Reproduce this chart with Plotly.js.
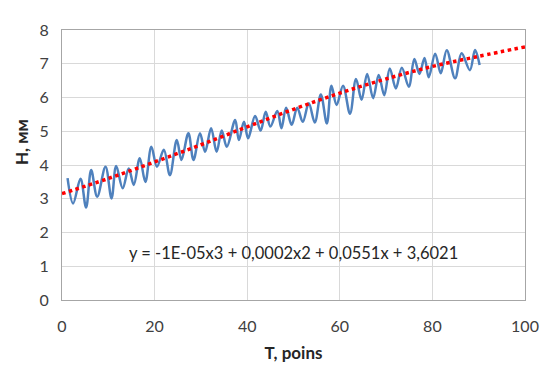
<!DOCTYPE html>
<html>
<head>
<meta charset="utf-8">
<script src="https://cdn.plot.ly/plotly-3.0.1.min.js"></script>
<style>html,body{margin:0;padding:0;background:#fff;}#chart{width:541px;height:365px;}</style>
</head>
<body>
<div id="chart"></div>
<script>
// Measured series: extrema of the oscillating curve (T, H)
const seriesT = [1.2,2.4,4.0,5.2,6.3,7.6,9.4,10.7,11.7,13.1,14.4,15.5,16.8,18.0,19.3,20.5,22.0,23.3,24.8,25.8,27.3,28.4,29.8,30.9,32.2,33.4,34.5,35.6,37.4,38.2,39.3,40.2,41.7,42.9,44.0,45.0,46.5,47.4,48.4,49.6,50.8,52.0,53.3,54.6,55.9,57.2,58.2,59.3,60.7,62.2,63.5,64.7,65.9,67.2,68.4,69.6,70.8,72.1,73.4,74.9,76.1,77.2,78.3,79.2,80.6,81.8,83.1,84.9,86.3,88.1,89.2,90.2];
const seriesH = [3.61,2.86,3.59,2.74,3.85,3.06,3.95,3.01,3.97,3.31,3.90,3.41,4.20,3.50,4.54,3.95,4.45,3.70,4.74,4.15,4.94,4.15,4.94,4.39,5.09,4.39,5.02,4.54,5.33,4.74,5.28,4.79,5.45,5.02,5.58,5.14,5.60,5.09,5.70,5.19,5.70,5.28,5.83,5.26,6.09,5.23,6.35,5.78,6.35,5.52,6.55,5.93,6.70,5.98,6.67,6.07,6.86,6.27,6.88,6.32,7.14,6.70,7.17,6.60,7.30,6.72,7.40,6.57,7.31,6.81,7.41,6.96];
// Trend line
const trendT = [0,10,20,30,40,50,60,70,80,90,100];
const trendH = [3.15,3.60,4.09,4.60,5.13,5.65,6.13,6.55,6.92,7.22,7.50];
const xTicks = [0,20,40,60,80,100];
const yTicks = [0,1,2,3,4,5,6,7,8];
const equation = "y = -1E-05x3 + 0,0002x2 + 0,0551x + 3,6021";
const xTitle = "T, poins";
const yTitle = "H, мм";

const fontFam = "Lato, 'Open Sans', sans-serif";
const traces = [
  {x: seriesT, y: seriesH, type: 'scatter', mode: 'lines',
   line: {color: '#4F81BD', width: 2.5, shape: 'spline', smoothing: 1}, hoverinfo: 'skip'},
  {x: trendT, y: trendH, type: 'scatter', mode: 'lines',
   line: {color: '#FF0000', width: 3.5, dash: '3.5px,3.5px', shape: 'spline'}, hoverinfo: 'skip'}
];
const layout = {
  width: 541, height: 365,
  margin: {l: 62, r: 16, t: 30, b: 65},
  paper_bgcolor: '#fff', plot_bgcolor: '#fff',
  showlegend: false,
  font: {family: fontFam, size: 16, color: '#404040'},
  xaxis: {range: [0, 100], tickvals: xTicks, ticks: '', showgrid: true, gridcolor: '#D9D9D9', gridwidth: 1,
          zeroline: false, showline: true, linecolor: '#A6A6A6', linewidth: 1, mirror: true,
          ticklabelstandoff: 12, tickfont: {size: 16, color: '#404040'},
          title: {text: xTitle, font: {size: 17, color: '#262626', weight: 'bold'}, standoff: 12}},
  yaxis: {range: [0, 8], tickvals: yTicks, ticks: '', showgrid: true, gridcolor: '#D9D9D9', gridwidth: 1,
          zeroline: false, showline: true, linecolor: '#A6A6A6', linewidth: 1, mirror: true,
          ticklabelstandoff: 9, tickfont: {size: 16, color: '#404040'}},
  annotations: [
    {x: 50.1, y: 1.38, xref: 'x', yref: 'y', text: equation, showarrow: false,
     font: {size: 16.5, color: '#262626'}},
    {x: 0, y: 0, xref: 'paper', yref: 'paper', xanchor: 'center', yanchor: 'middle',
     text: yTitle, showarrow: false, textangle: -90,
     font: {size: 17, color: '#262626', weight: 'bold'}}
  ]
};
// y title placed in pixel coords converted to paper
layout.annotations[1].x = (21 - 62) / (541 - 62 - 16);
layout.annotations[1].y = (365 - 65 - 142) / (365 - 30 - 65);
Plotly.newPlot('chart', traces, layout, {staticPlot: true, displayModeBar: false});
</script>
</body>
</html>
